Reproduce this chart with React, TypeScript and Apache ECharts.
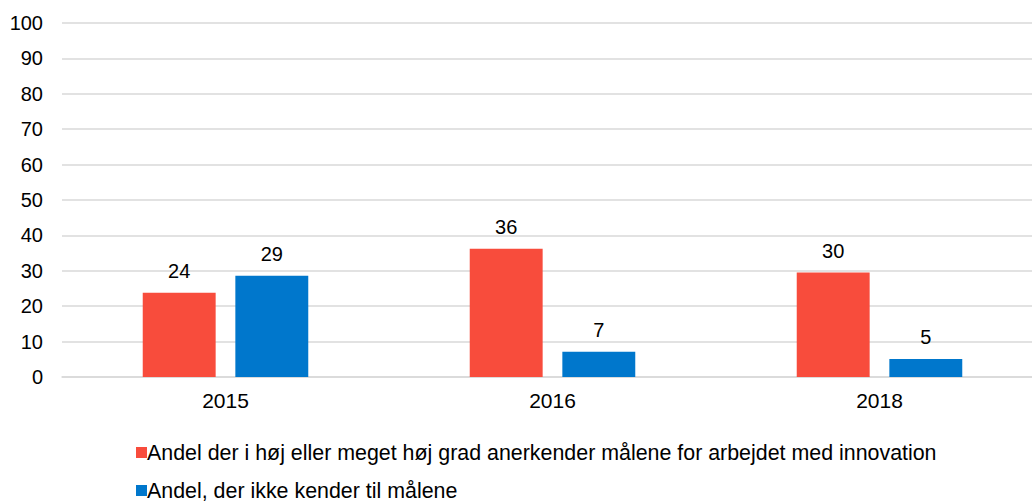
import React, { useEffect, useRef } from "react";
import * as echarts from "echarts";

const years = ["2015", "2016", "2018"];
const seriesNames = [
  "Andel der i høj eller meget høj grad anerkender målene for arbejdet med innovation",
  "Andel, der ikke kender til målene",
];
const anerkender = [23.8, 36.2, 29.5];
const kenderIkke = [28.6, 7.1, 5.1];
const colors = ["#F84C3C", "#0077CC"];

export default function App() {
  const ref = useRef<HTMLDivElement>(null);
  useEffect(() => {
    if (!ref.current) return;
    const chart = echarts.init(ref.current, undefined, { renderer: "svg" });
    const font = "Liberation Sans, Arial, sans-serif";
    const label = {
      show: true,
      position: "top" as const,
      distance: 12,
      fontSize: 20,
      fontFamily: font,
      color: "#000",
      formatter: (p: any) => String(Math.round(p.value)),
    };
    const legendBase = {
      orient: "vertical",
      left: 131,
      itemWidth: 11,
      itemHeight: 11,
      icon: "rect",
      textStyle: { fontSize: 21.4, color: "#000", fontFamily: font, padding: [0, 0, 0, -5] },
    };
    chart.setOption({
      animation: false,
      textStyle: { fontFamily: font },
      grid: { left: 62, right: 0, top: 23, height: 354, containLabel: false },
      legend: [
        { ...legendBase, top: 437, data: [seriesNames[0]] },
        { ...legendBase, top: 475, data: [seriesNames[1]] },
      ],
      xAxis: {
        type: "category",
        data: years,
        axisLine: { show: true, lineStyle: { color: "#d9d9d9", width: 1.5 } },
        axisTick: { show: false },
        axisLabel: { fontSize: 21, color: "#000", margin: 13, fontFamily: font },
      },
      yAxis: {
        type: "value",
        min: 0,
        max: 100,
        interval: 10,
        axisLine: { show: false },
        axisTick: { show: false },
        axisLabel: { fontSize: 20, color: "#000", margin: 19, fontFamily: font },
        splitLine: { lineStyle: { color: "#d9d9d9", width: 1.5 } },
      },
      series: [
        {
          name: seriesNames[0],
          type: "bar",
          data: anerkender,
          barWidth: "22.3%",
          barGap: "27%",
          itemStyle: { color: colors[0] },
          label,
        },
        {
          name: seriesNames[1],
          type: "bar",
          data: kenderIkke,
          barWidth: "22.3%",
          barGap: "27%",
          itemStyle: { color: colors[1] },
          label,
        },
      ],
    });
    return () => chart.dispose();
  }, []);
  return (
    <div style={{ width: 1032, height: 501, position: "absolute", left: 0, top: 0, overflow: "hidden" }}>
      <div ref={ref} style={{ width: 1043, height: 501 }} />
    </div>
  );
}
